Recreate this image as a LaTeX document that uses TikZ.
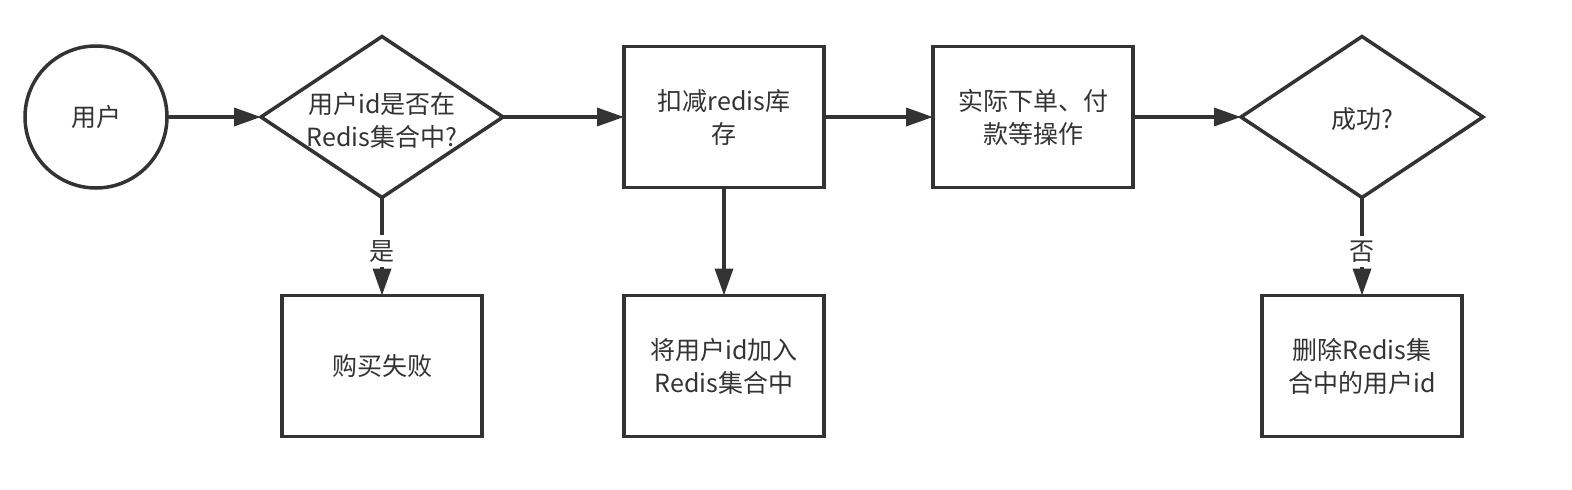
\documentclass[tikz,border=0pt]{standalone}
\usepackage{fontspec}
\setmainfont{Noto Sans CJK SC}
\usetikzlibrary{shapes.geometric,arrows.meta}
\definecolor{lc}{HTML}{333333}
\definecolor{tc}{HTML}{333333}
\begin{document}
\begin{tikzpicture}[x=1pt,y=-1pt,
  every node/.style={font=\fontsize{25}{33}\selectfont, text=tc},
  base/.style={draw=lc, line width=3.5pt, fill=white, outer sep=0pt, align=center},
  startnode/.style={base, circle, minimum size=142pt, inner sep=0pt},
  procbox/.style={base, rectangle, minimum width=200pt, minimum height=141pt},
  decision/.style={base, diamond, minimum width=242pt, minimum height=161pt, inner sep=0pt},
  flow/.style={draw=lc, line width=3.5pt, -{Triangle[length=27pt,width=18pt]}},
  elabel/.style={fill=white, inner sep=5pt, text=tc}
]
\useasboundingbox (0,0) rectangle (1572,490);
\fill[white] (0,0) rectangle (1572,490);

\node[startnode] (user) at (96,117) {用户};
\node[decision, label={[align=center, yshift=-3pt]center:用户id是否在\\Redis集合中?}] (d1) at (382,117) {};
\node[procbox] (dec) at (724,117) {扣减redis库\\存};
\node[procbox] (order) at (1033,117) {实际下单、付\\款等操作};
\node[decision, label={[yshift=-2pt]center:成功?}] (d2) at (1362,117) {};
\node[procbox] (fail) at (382,366) {购买失败};
\node[procbox] (add) at (724,366) {将用户id加入\\Redis集合中};
\node[procbox] (del) at (1362,366) {删除Redis集\\合中的用户id};

\draw[flow] (user.east) -- (d1.west);
\draw[flow] (d1.east) -- (dec.west);
\draw[flow] (dec.east) -- (order.west);
\draw[flow] (order.east) -- (d2.west);
\draw[flow] (d1.south) -- node[elabel, pos=0.55] (yes) {是} (fail.north);
\draw[flow] (dec.south) -- (add.north);
\draw[flow] (d2.south) -- node[elabel, pos=0.55] (no) {否} (del.north);
\end{tikzpicture}
\end{document}
